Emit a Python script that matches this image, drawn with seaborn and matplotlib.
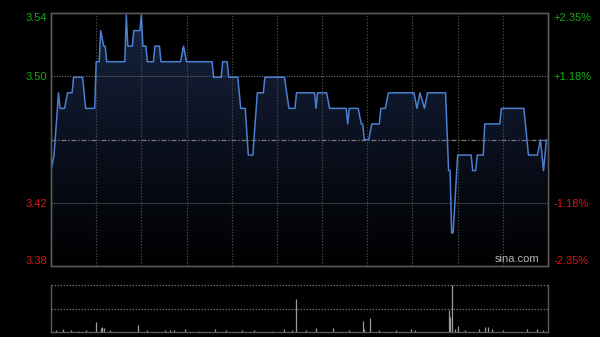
import numpy as np
import pandas as pd
import matplotlib
matplotlib.use("Agg")
import matplotlib.pyplot as plt
import seaborn as sns
from matplotlib.colors import LinearSegmentedColormap
from matplotlib.patches import Polygon

# ---------------- data ----------------
prev_close = 3.46
price_minutes = [0, 2, 5, 6, 9, 11, 14, 15, 21, 23, 29, 30, 32, 33, 35, 36, 37, 49, 50, 51,
                 54, 55, 59, 60, 61, 63, 64, 68, 69, 72, 73, 86, 88, 90, 107, 108, 113, 114,
                 117, 118, 124, 126, 129, 131, 134, 137, 141, 142, 155, 158, 162, 163, 175,
                 176, 177, 183, 185, 196, 197, 198, 204, 206, 207, 208, 211, 213, 218, 219,
                 222, 224, 241, 243, 245, 248, 250, 262, 264, 265, 266, 267, 270, 279, 280,
                 282, 283, 287, 288, 298, 299, 314, 315, 317, 323, 325, 327, 329]
prices = [3.44, 3.45, 3.49, 3.48, 3.48, 3.49, 3.49, 3.50, 3.50, 3.48, 3.48, 3.51, 3.51, 3.53,
          3.52, 3.52, 3.51, 3.51, 3.54, 3.52, 3.52, 3.53, 3.53, 3.54, 3.52, 3.52, 3.51, 3.51,
          3.52, 3.52, 3.51, 3.51, 3.52, 3.51, 3.51, 3.50, 3.50, 3.51, 3.51, 3.50, 3.50, 3.48,
          3.48, 3.45, 3.45, 3.49, 3.49, 3.50, 3.50, 3.48, 3.48, 3.49, 3.49, 3.48, 3.49, 3.49,
          3.48, 3.48, 3.47, 3.48, 3.48, 3.47, 3.47, 3.46, 3.46, 3.47, 3.47, 3.48, 3.48, 3.49,
          3.49, 3.48, 3.49, 3.48, 3.49, 3.49, 3.44, 3.44, 3.40, 3.40, 3.45, 3.45, 3.44, 3.44,
          3.45, 3.45, 3.47, 3.47, 3.48, 3.48, 3.47, 3.45, 3.45, 3.46, 3.44, 3.46]

vol_minutes = [3, 8, 13, 18, 23, 30, 33, 34, 35, 39, 58, 64, 76, 79, 82, 89, 98, 109, 116,
               127, 135, 147, 155, 160, 163, 169, 176, 187, 198, 207, 208, 212, 218, 229,
               239, 242, 264, 265, 266, 268, 270, 275, 284, 288, 290, 293, 300, 316, 323, 327]
volumes = [2, 3, 2, 1, 2, 10, 4, 5, 4, 2, 7, 2, 2, 2, 2, 3, 1, 3, 2,
           2, 2, 1, 3, 2, 33, 2, 4, 4, 2, 11, 3, 14, 2, 2,
           3, 2, 22, 15, 47, 3, 6, 2, 3, 5, 5, 3, 2, 3, 3, 2]

left_labels = ["3.54", "3.50", "3.42", "3.38"]
right_labels = ["+2.35%", "+1.18%", "-1.18%", "-2.35%"]
pct_span = 0.0235
pct_grid = 0.0118

# ---------------- style ----------------
sns.set_theme(style="dark")
plt.rcParams["font.family"] = ["Liberation Sans", "DejaVu Sans"]
plt.rcParams["axes.facecolor"] = "black"
plt.rcParams["figure.facecolor"] = "black"

GREEN = "#12b012"
RED = "#d81818"
SPINE = "#5a5a5a"
LINE = "#4a7fd2"

lo = prev_close * (1 - pct_span)
hi = prev_close * (1 + pct_span)
g_hi = prev_close * (1 + pct_grid)
g_lo = prev_close * (1 - pct_grid)

fig = plt.figure(figsize=(6.0, 3.37), dpi=100, facecolor="black")
ax = fig.add_axes([51 / 600, 1 - 266 / 337, 497 / 600, 253 / 337])
axv = fig.add_axes([51 / 600, 1 - 332 / 337, 497 / 600, 47 / 337])

# gradient fill under the line
grad = np.linspace(1, 0, 256).reshape(-1, 1)
cmap = LinearSegmentedColormap.from_list("g", ["#000000", "#0b1120", "#17243f"])
im = ax.imshow(grad, extent=[0, 330, lo, hi], aspect="auto", cmap=cmap,
               origin="upper", zorder=1, interpolation="bilinear")
verts = list(zip(price_minutes, prices)) + [(price_minutes[-1], lo), (price_minutes[0], lo)]
poly = Polygon(verts, closed=True, facecolor="none", edgecolor="none", transform=ax.transData)
ax.add_patch(poly)
im.set_clip_path(poly)

df = pd.DataFrame({"minute": price_minutes, "price": prices})
sns.lineplot(data=df, x="minute", y="price", ax=ax, color=LINE, lw=1.1, zorder=5)

ax.set_xlim(0, 330)
ax.set_ylim(lo, hi)
ax.set_xlabel("")
ax.set_ylabel("")
ax.set_xticks(range(0, 331, 30))
ax.set_xticklabels([])
ax.grid(False)
for m in range(30, 330, 30):
    ax.axvline(m, color="#444444", lw=0.9, ls=(0, (1.2, 1.2)), zorder=2)
ax.axhline(g_hi, color="#606060", lw=0.8, ls=(0, (1.2, 1.2)), zorder=2)
ax.axhline(g_lo, color="#606060", lw=0.8, ls=(0, (1.2, 1.2)), zorder=2)
ax.axhline(prev_close, color="#787878", lw=0.9, ls=(0, (4, 1.5, 1, 1.5)), zorder=2)

ax.set_yticks([hi, g_hi, g_lo, lo])
ax.set_yticklabels(left_labels)
ax.tick_params(axis="y", length=0, pad=3, labelsize=8)
ax.tick_params(axis="x", length=0)
for i, t in enumerate(ax.get_yticklabels()):
    t.set_color(GREEN if i < 2 else RED)
    if i == 0:
        t.set_verticalalignment("top")
    elif i == 3:
        t.set_verticalalignment("bottom")

ax2 = ax.twinx()
ax2.set_ylim(lo, hi)
ax2.set_yticks([hi, g_hi, g_lo, lo])
ax2.set_yticklabels(right_labels)
ax2.tick_params(axis="y", length=0, pad=4, labelsize=8)
ax2.grid(False)
for i, t in enumerate(ax2.get_yticklabels()):
    t.set_color(GREEN if i < 2 else RED)
    if i == 0:
        t.set_verticalalignment("top")
    elif i == 3:
        t.set_verticalalignment("bottom")

for a in (ax, ax2):
    for s in a.spines.values():
        s.set_color(SPINE)
        s.set_linewidth(1.0)
        s.set_visible(True)

ax.text(0.938, 0.008, "sina.com", transform=ax.transAxes, ha="center", va="bottom",
        color="#b4b4b4", fontsize=8, zorder=6)

# volume panel
axv.vlines(vol_minutes, 0, volumes, color="#9c9c9c", lw=0.9)
axv.set_xlim(0, 330)
vmax = max(volumes)
axv.set_ylim(0, vmax)
axv.set_xticks([])
axv.set_yticks([])
axv.grid(False)
axv.axhline(vmax, color="#6a6a6a", lw=0.9, ls=(0, (1.2, 1.2)), clip_on=False)
axv.axhline(vmax * 0.5, color="#6a6a6a", lw=0.9, ls=(0, (1.2, 1.2)))
for k, s in axv.spines.items():
    s.set_color(SPINE)
    s.set_linewidth(1.0)
    s.set_visible(k != "top")

fig.savefig("out.png", dpi=100, facecolor="black")
